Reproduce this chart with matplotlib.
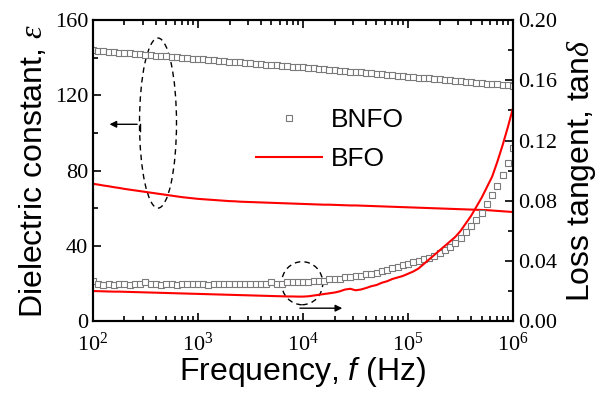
import numpy as np
import matplotlib
matplotlib.use('Agg')
import matplotlib.pyplot as plt
from matplotlib.patches import Ellipse
from matplotlib.lines import Line2D
from matplotlib.ticker import MultipleLocator, LogLocator, NullFormatter, FormatStrFormatter

plt.rcParams['font.family'] = ['Liberation Serif', 'DejaVu Serif']
plt.rcParams['mathtext.fontset'] = 'custom'
plt.rcParams['mathtext.rm'] = 'Liberation Serif'
plt.rcParams['mathtext.it'] = 'Liberation Serif:italic'
plt.rcParams['mathtext.sf'] = 'Liberation Sans:italic'

# measurement grid, 20 points per decade from 1e2 to 1e6 Hz
freq = np.logspace(2, 6, 81)

# dielectric constant (left axis)
eps_bnfo = [144.0, 143.8, 143.5, 143.3, 143.0, 142.8, 142.6, 142.3, 142.1, 141.9, 141.6,
            141.4, 141.2, 140.9, 140.7, 140.5, 140.2, 140.0, 139.8, 139.6, 139.4,
            139.2, 138.9, 138.7, 138.5, 138.3, 138.0, 137.8, 137.6, 137.3, 137.1,
            136.9, 136.7, 136.4, 136.2, 136.0, 135.8, 135.5, 135.3, 135.1, 134.9,
            134.6, 134.4, 134.2, 134.0, 133.7, 133.5, 133.2, 133.0, 132.7, 132.5,
            132.2, 132.0, 131.7, 131.5, 131.2, 131.0, 130.7, 130.5, 130.2, 130.0,
            129.8, 129.5, 129.3, 129.0, 128.8, 128.5, 128.3, 128.0, 127.8, 127.5,
            127.3, 127.0, 126.8, 126.5, 126.3, 126.0, 125.8, 125.5, 125.3, 125.0]
eps_bfo = [73.0, 72.6, 72.1, 71.7, 71.2, 70.8, 70.3, 69.9, 69.5, 69.1, 68.7,
           68.3, 67.9, 67.5, 67.1, 66.7, 66.3, 65.9, 65.6, 65.3, 65.0,
           64.8, 64.6, 64.4, 64.2, 64.0, 63.8, 63.7, 63.5, 63.4, 63.3,
           63.2, 63.1, 63.0, 62.9, 62.8, 62.7, 62.6, 62.5, 62.4, 62.3,
           62.2, 62.1, 62.0, 61.9, 61.9, 61.8, 61.7, 61.6, 61.5, 61.5,
           61.4, 61.3, 61.2, 61.1, 61.0, 60.9, 60.8, 60.7, 60.6, 60.5,
           60.4, 60.3, 60.2, 60.1, 60.0, 59.9, 59.8, 59.7, 59.6, 59.5,
           59.4, 59.3, 59.2, 59.1, 59.0, 58.8, 58.6, 58.4, 58.2, 58.0]

# loss tangent (right axis)
tan_bnfo = [0.027, 0.025, 0.024, 0.025, 0.024, 0.025, 0.025, 0.024, 0.025, 0.025,
            0.026, 0.025, 0.025, 0.024, 0.025, 0.025, 0.024, 0.025, 0.025, 0.025,
            0.025, 0.025, 0.024, 0.025, 0.025, 0.025, 0.025, 0.025, 0.025, 0.025,
            0.025, 0.025, 0.025, 0.025, 0.026, 0.025, 0.025, 0.026, 0.026, 0.026,
            0.026, 0.026, 0.027, 0.027, 0.027, 0.028, 0.028, 0.028, 0.029, 0.029,
            0.030, 0.030, 0.031, 0.031, 0.032, 0.033, 0.034, 0.035, 0.036, 0.037,
            0.038, 0.039, 0.040, 0.041, 0.042, 0.043, 0.045, 0.047, 0.049, 0.052,
            0.055, 0.059, 0.063, 0.067, 0.072, 0.078, 0.084, 0.090, 0.097, 0.105,
            0.115]
tan_bfo = [0.0200, 0.0199, 0.0198, 0.0197, 0.0196, 0.0196, 0.0195, 0.0194, 0.0193, 0.0192,
           0.0191, 0.0190, 0.0189, 0.0188, 0.0187, 0.0186, 0.0185, 0.0184, 0.0183, 0.0182,
           0.0181, 0.0180, 0.0179, 0.0178, 0.0177, 0.0176, 0.0175, 0.0174, 0.0173, 0.0172,
           0.0171, 0.0170, 0.0169, 0.0168, 0.0167, 0.0166, 0.0165, 0.0164, 0.0164, 0.0163,
           0.0163, 0.0165, 0.0170, 0.0175, 0.0180, 0.0185, 0.0190, 0.0198, 0.0210, 0.0215,
           0.0205, 0.0210, 0.0220, 0.0232, 0.0240, 0.0255, 0.0265, 0.0280, 0.0290, 0.0300,
           0.0315, 0.0330, 0.0350, 0.0380, 0.0410, 0.0440, 0.0470, 0.0500, 0.0530, 0.0560,
           0.0600, 0.0650, 0.0700, 0.0760, 0.0820, 0.0890, 0.0960, 0.1060, 0.1170, 0.1290,
           0.1420]

fig = plt.figure(figsize=(6.03, 3.95), dpi=100)
ax = fig.add_axes([0.154, 0.187, 0.697, 0.762])
ax2 = ax.twinx()

sq = dict(marker='s', ms=5, mfc='white', mec='#7a7a7a', mew=0.8, ls='none')
ax.plot(freq, eps_bnfo, **sq)
ax.plot(freq, eps_bfo, color='#ff0000', lw=1.5)
ax2.plot(freq, tan_bnfo, **sq)
ax2.plot(freq, tan_bfo, color='#ff0000', lw=1.5)

ax.set_xscale('log')
ax.set_xlim(1e2, 1e6)
ax.set_ylim(0, 160)
ax2.set_ylim(0, 0.20)

ax.xaxis.set_major_locator(LogLocator(base=10, numticks=10))
ax.xaxis.set_minor_locator(LogLocator(base=10, subs=np.arange(2, 10), numticks=20))
ax.xaxis.set_minor_formatter(NullFormatter())
ax.yaxis.set_major_locator(MultipleLocator(40))
ax.yaxis.set_minor_locator(MultipleLocator(20))
ax2.yaxis.set_major_locator(MultipleLocator(0.04))
ax2.yaxis.set_minor_locator(MultipleLocator(0.02))
ax2.yaxis.set_major_formatter(FormatStrFormatter('%.2f'))

for a in (ax, ax2):
    a.tick_params(which='both', direction='in', labelsize=16, width=1.2)
    a.tick_params(which='major', length=6)
    a.tick_params(which='minor', length=3.5)
    for s in a.spines.values():
        s.set_linewidth(1.5)
ax.tick_params(which='both', top=True, right=False)
ax.tick_params(axis='x', pad=8)

lab = dict(fontfamily='Liberation Sans', fontsize=23)
ax.set_xlabel(r'Frequency, $\mathsf{f}$ (Hz)', labelpad=0, **lab)
ax.set_ylabel(r'Dielectric constant, $\varepsilon$', labelpad=4, **lab)
ax2.set_ylabel(r'Loss tangent, tan$\delta$', labelpad=6, **lab)

# annotations
dash = dict(fill=False, ec='black', lw=1.0, ls=(0, (4, 3)), transform=ax.transAxes)
ax.add_patch(Ellipse((0.155, 0.658), 0.088, 0.565, **dash))
ax.add_patch(Ellipse((0.498, 0.126), 0.098, 0.143, **dash))
arr = dict(arrowstyle='-|>', color='black', lw=1.0, mutation_scale=10)
ax.annotate('', xy=(0.033, 0.654), xytext=(0.112, 0.654),
            xycoords='axes fraction', arrowprops=arr)
ax.plot([0.112, 0.112], [0.654, 0.633], color='black', lw=1.0, transform=ax.transAxes)
ax.annotate('', xy=(0.60, 0.043), xytext=(0.486, 0.043),
            xycoords='axes fraction', arrowprops=arr)

handles = [Line2D([], [], **sq),
           Line2D([], [], color='#ff0000', lw=1.5)]
ax2.legend(handles, ['BNFO', 'BFO'], loc='upper left', bbox_to_anchor=(0.388, 0.707),
           frameon=False, prop={'family': 'Liberation Sans', 'size': 19},
           handlelength=2.5, handletextpad=0.35, labelspacing=0.55,
           borderpad=0, borderaxespad=0)

fig.savefig('out.png', dpi=100)
